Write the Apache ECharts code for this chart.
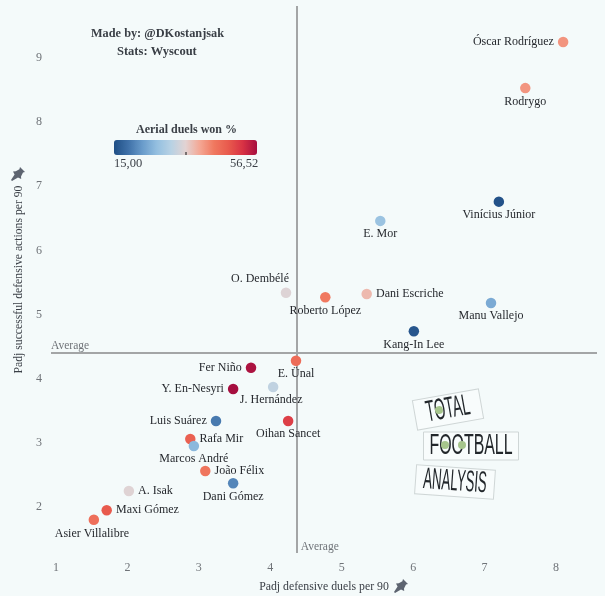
<!DOCTYPE html>
<html><head><meta charset="utf-8">
<style>html,body{margin:0;padding:0;background:#f4fafa}#c{width:605px;height:596px}</style>
<script src="https://cdn.jsdelivr.net/npm/echarts@6/dist/echarts.min.js"></script>
</head><body><div id="c"></div><script>
const players=['Óscar Rodríguez','Rodrygo','Vinícius Júnior','E. Mor','O. Dembélé','Roberto López','Dani Escriche','Manu Vallejo','Kang-In Lee','E. Ünal','Fer Niño','Y. En-Nesyri','J. Hernández','Luis Suárez','Oihan Sancet','Rafa Mir','Marcos André','João Félix','Dani Gómez','A. Isak','Maxi Gómez','Asier Villalibre'];
const defensiveDuels=[8.10,7.57,7.20,5.54,4.22,4.77,5.35,7.09,6.01,4.36,3.73,3.48,4.04,3.24,4.25,2.88,2.93,3.09,3.48,2.02,1.71,1.53];
const defensiveActions=[9.25,8.53,6.76,6.46,5.34,5.27,5.32,5.18,4.74,4.28,4.17,3.84,3.87,3.34,3.34,3.06,2.95,2.56,2.37,2.25,1.95,1.80];
const aerialWon=[41.6,41.5,15.5,28.3,35.3,44,38.2,25,16,45.7,56,56.52,32.4,20,51,47.4,26.6,44.5,21.2,35.5,48.2,45.3];
const xTicks=[1,2,3,4,5,6,7,8];
const yTicks=[2,3,4,5,6,7,8,9];
const averageDuels=4.37, averageActions=4.40;
const aerialMin=15, aerialMax=56.52;
const labelSide=['left','bottom','bottom','bottom','top','bottom','right','bottom','bottom','bottom','left','left','bottom','left','bottom','right','bottom','right','bottom','right','right','bottom'];
const labelShift={4:[-26,1],12:[-2,0],21:[-2,1]};
const ink='#3a3f46', muted='#6f7378', lineGrey='#a3a5a6';
const serif='"Liberation Serif",serif';
const pinPts=[[9,0],[14,5],[12,5.6],[10,9.5],[10.2,12],[7,10.6],[1,14],[0,13],[3.6,7.4],[2,4.6],[4.8,4.2],[8.4,2.2]];
const chart=echarts.init(document.getElementById('c'));
function logo(x,y,w,h,rot,txt,sx,balls){return {type:'group',x:x,y:y,rotation:rot*Math.PI/180,children:[
 {type:'rect',shape:{x:-w/2,y:-h/2,width:w,height:h},style:{fill:'#f8fcfc',stroke:'#cfd6d6',lineWidth:1}},
 {type:'text',scaleX:sx,style:{x:0,y:0,text:txt,align:'center',verticalAlign:'middle',font:'30px "Liberation Sans",sans-serif',fill:'#22272b'}}
 ].concat(balls.map(b=>({type:'circle',shape:{cx:b,cy:-1,r:4},style:{fill:'#a6c58c'}})))};}
chart.setOption({
 backgroundColor:'#f4fafa',animation:false,
 grid:{left:51,right:8,top:6,bottom:43,outerBoundsMode:'none'},
 xAxis:{type:'value',min:0.93,max:8.574,axisLine:{show:false},axisTick:{show:false},splitLine:{show:false},
  axisLabel:{customValues:xTicks,color:muted,fontFamily:serif,fontSize:12,margin:9,showMinLabel:true,showMaxLabel:true},
  name:'Padj defensive duels per 90',nameLocation:'middle',nameGap:28,nameTextStyle:{color:ink,fontFamily:serif,fontSize:11.8}},
 yAxis:{type:'value',min:1.283,max:9.81,axisLine:{show:false},axisTick:{show:false},splitLine:{show:false},
  axisLabel:{customValues:yTicks,color:muted,fontFamily:serif,fontSize:12,margin:9},
  name:'Padj successful defensive actions per 90',nameLocation:'middle',nameGap:25,nameTextStyle:{color:ink,fontFamily:serif,fontSize:11.7}},
 visualMap:{type:'continuous',min:aerialMin,max:aerialMax,dimension:2,seriesIndex:0,orient:'horizontal',left:99,top:125,itemHeight:143,itemWidth:15,text:null,showLabel:false,calculable:false,realtime:false,hoverLink:false,
  inRange:{color:['#1f4e85','#3f71a8','#6a9ccb','#94bfe0','#b8d2e4','#e2d3d3','#f4a794','#f0785f','#e85a4d','#d83244','#a60e3f']},textStyle:{color:'transparent'}},
 series:[{type:'scatter',symbolSize:10.5,z:5,itemStyle:{opacity:1},
  data:players.map((n,i)=>({value:[defensiveDuels[i],defensiveActions[i],aerialWon[i]],name:n,
   label:{show:true,formatter:n,position:labelSide[i],offset:labelShift[i]||[0,0],distance:labelSide[i]==='bottom'?2:4,color:'#26292e',fontFamily:serif,fontSize:12}})),
  markLine:{silent:true,symbol:'none',animation:false,lineStyle:{color:lineGrey,width:2,type:'solid'},
   data:[{xAxis:averageDuels,label:{show:true,formatter:'Average',rotate:0,position:'insideStartBottom',distance:0,offset:[4,-12],color:muted,fontFamily:serif,fontSize:11.5}},
         {yAxis:averageActions,label:{show:true,formatter:'Average',position:'insideStartTop',distance:1,offset:[-1,0],color:muted,fontFamily:serif,fontSize:11.5}}]}}],
 graphic:[
  {type:'text',left:91,top:28,style:{text:'Made by: @DKostanjsak',font:'bold 12.3px '+serif,fill:ink}},
  {type:'text',left:117,top:45,style:{text:'Stats: Wyscout',font:'bold 12.5px '+serif,fill:ink}},
  {type:'text',left:136,top:124,style:{text:'Aerial duels won %',font:'bold 12px '+serif,fill:ink}},
  {type:'text',left:114,top:157,style:{text:'15,00',font:'12.5px '+serif,fill:ink}},
  {type:'text',left:230,top:157,style:{text:'56,52',font:'12.5px '+serif,fill:ink}},
  {type:'rect',left:185.5,top:152,z:20,shape:{width:1,height:3},style:{fill:'#111'}},
  {type:'polygon',left:394,top:579,shape:{points:pinPts},style:{fill:'#5d6470'}},
  {type:'polygon',left:11,top:167,shape:{points:pinPts},style:{fill:'#5d6470'}},
  logo(448,409.5,67,30,10,'TOTAL',0.47,[-9]),
  logo(471,446,95,28,0,'FOOTBALL',0.53,[-26,-9]),
  logo(455,482,79,29,-4,'ANALYSIS',0.44,[])
 ]
});
</script></body></html>
